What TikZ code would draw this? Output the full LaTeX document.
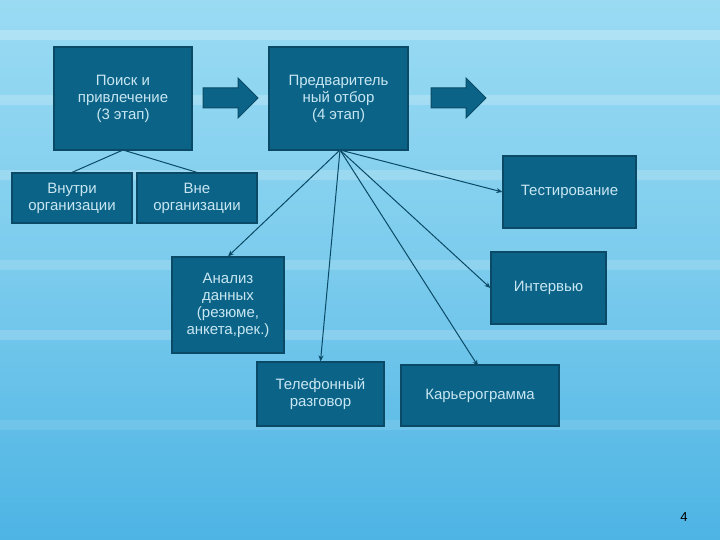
\documentclass[tikz,border=0pt]{standalone}
\usepackage{fontspec}
\setmainfont{Liberation Sans}
\usetikzlibrary{arrows.meta}
\definecolor{boxf}{HTML}{0B6487}
\definecolor{boxd}{HTML}{0A4A66}
\definecolor{txt}{HTML}{C8E6F2}
\definecolor{skyA}{HTML}{9ADBF3}
\definecolor{skyB}{HTML}{4DB4E4}
\begin{document}
\begin{tikzpicture}[x=1pt,y=-1pt,
  bx/.style={draw=boxd,line width=1.2pt,fill=boxf,text=txt,align=center,font=\fontsize{15}{17}\selectfont,inner sep=0pt},
  ln/.style={draw=boxd,line width=1pt},
  ar/.style={ln,-{Stealth[length=6pt,width=5pt]}},
  barrow/.style={draw=boxd,line width=1pt,fill=boxf}]
\shade[top color=skyA,bottom color=skyB,middle color=skyA!60!skyB] (0,0) rectangle (720,540);
\foreach \y/\o in {30/0.25,95/0.2,170/0.18,260/0.15,330/0.18,420/0.1}{\fill[white,opacity=\o] (0,\y) rectangle (720,\y+10);}
\useasboundingbox (0,0) rectangle (720,540);
\node[bx,minimum width=138pt,minimum height=103pt] (p) at (123,98.5) {Поиск и\\привлечение\\(3 этап)};
\node[bx,minimum width=139pt,minimum height=103pt] (q) at (338.5,98.5) {Предваритель\\ный отбор\\(4 этап)};
\node[bx,minimum width=120pt,minimum height=50pt] (in) at (72,198) {Внутри\\организации};
\node[bx,minimum width=120pt,minimum height=50pt] (out) at (197,198) {Вне\\организации};
\node[bx,minimum width=133pt,minimum height=72pt] (t) at (569.5,192) {Тестирование};
\node[bx,minimum width=112pt,minimum height=96pt] (a) at (228,305) {Анализ\\данных\\(резюме,\\анкета,рек.)};
\node[bx,minimum width=115pt,minimum height=72pt] (i) at (548.5,288) {Интервью};
\node[bx,minimum width=127pt,minimum height=64pt] (tel) at (320.5,394) {Телефонный\\разговор};
\node[bx,minimum width=158pt,minimum height=61pt] (k) at (480,395.5) {Карьерограмма};
\draw[barrow] (203,88) -- (238,88) -- (238,78) -- (258,98) -- (238,118) -- (238,108) -- (203,108) -- cycle;
\draw[barrow] (431,88) -- (466,88) -- (466,78) -- (486,98) -- (466,118) -- (466,108) -- (431,108) -- cycle;
\coordinate (ps) at (123,150);
\coordinate (qs) at (340,150);
\draw[ln] (ps) -- (in.north);
\draw[ln] (ps) -- (out.north);
\draw[ar] (qs) -- (a.north);
\draw[ar] (qs) -- (tel.north);
\draw[ar] (qs) -- (478,366);
\draw[ar] (qs) -- (i.west);
\draw[ar] (qs) -- (t.west);
\node[font=\fontsize{13}{15}\selectfont] (n) at (684,517) {4};
\end{tikzpicture}
\end{document}
